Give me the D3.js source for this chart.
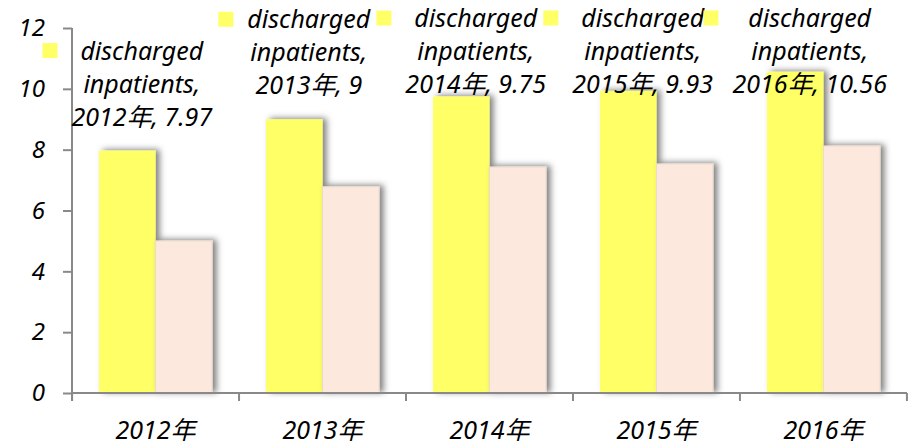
<!DOCTYPE html>
<html>
<head>
<meta charset="utf-8">
<script src="https://cdn.jsdelivr.net/npm/d3@7"></script>
<style>
  body { margin: 0; background: #fff; }
  text { font-family: "Noto Sans", "Noto Sans CJK SC", sans-serif; font-style: italic; }
</style>
</head>
<body>
<div id="chart"></div>
<script>
// data
let years = ["2012年", "2013年", "2014年", "2015年", "2016年"];
let seriesNames = ["discharged inpatients", "other"];
let discharged = [7.97, 9, 9.75, 9.93, 10.56];
let other = [5.0, 6.78, 7.43, 7.53, 8.12];
let yTicks = [0, 2, 4, 6, 8, 10, 12];

let width = 912;
let height = 446;
let plotLeft = 72, plotRight = 907, plotTop = 28, plotBottom = 393;

let svg = d3.select("#chart").append("svg")
  .attr("width", width)
  .attr("height", height);

// shadow behind the bars
let defs = svg.append("defs");
defs.append("filter")
  .attr("id", "shadow")
  .attr("x", "-20%").attr("y", "-20%")
  .attr("width", "150%").attr("height", "140%")
  .append("feDropShadow")
  .attr("dx", 4).attr("dy", -1)
  .attr("stdDeviation", 3)
  .attr("flood-color", "#000")
  .attr("flood-opacity", 0.5);

let xScale = d3.scaleBand()
  .domain(years)
  .range([plotLeft, plotRight])
  .paddingInner(0.323)
  .paddingOuter(0.162);

let xSub = d3.scaleBand()
  .domain(seriesNames)
  .range([0, xScale.bandwidth()]);

let yScale = d3.scaleLinear()
  .domain([0, 12])
  .range([plotBottom, plotTop]);

let colors = ["#ffff66", "#fce8dc"];

let rows = years.map(function (y, i) {
  return { year: y, values: [discharged[i], other[i]] };
});

// bars
let groups = svg.selectAll("g.year").data(rows).enter()
  .append("g")
  .attr("class", "year")
  .attr("transform", function (d) { return "translate(" + xScale(d.year) + ",0)"; });

groups.selectAll("rect").data(function (d) {
    return d.values.map(function (v, j) { return { name: seriesNames[j], value: v, j: j }; });
  }).enter()
  .append("rect")
  .attr("x", function (d) { return xSub(d.name); })
  .attr("y", function (d) { return yScale(d.value); })
  .attr("width", xSub.bandwidth())
  .attr("height", function (d) { return plotBottom - yScale(d.value); })
  .attr("fill", function (d) { return colors[d.j]; })
  .attr("stroke", function (d) { return d.j === 1 ? "#ecdccf" : "none"; })
  .attr("stroke-width", 1)
  .attr("filter", "url(#shadow)");

// axes
let axisColor = "#898989";
let yAxis = d3.axisLeft(yScale).tickValues(yTicks).tickSize(9).tickPadding(18);
let gy = svg.append("g")
  .attr("transform", "translate(" + plotLeft + ",0)")
  .call(yAxis);
gy.select(".domain").attr("stroke", axisColor).attr("stroke-width", 2)
  .attr("d", "M0," + plotTop + "V" + (plotBottom + 8));
gy.selectAll(".tick line").attr("stroke", axisColor).attr("stroke-width", 2);
gy.selectAll(".tick text").attr("font-size", 24).attr("fill", "#000")
  .style("font-family", "'Noto Sans', sans-serif").style("font-style", "italic");

let xAxis = d3.axisBottom(xScale).tickSize(0).tickPadding(28);
let gx = svg.append("g")
  .attr("transform", "translate(0," + plotBottom + ")")
  .call(xAxis);
gx.select(".domain").attr("stroke", axisColor).attr("stroke-width", 2)
  .attr("d", "M" + plotLeft + ",0H" + plotRight);
gx.selectAll(".tick text").attr("font-size", 25).attr("fill", "#000")
  .style("font-style", "italic");

// category boundary ticks
let half = (xScale.step() - xScale.bandwidth()) / 2;
let bounds = years.map(function (y) { return xScale(y) - half; });
bounds.push(xScale(years[years.length - 1]) + xScale.bandwidth() + half);
gx.selectAll("line.bound").data(bounds).enter()
  .append("line")
  .attr("class", "bound")
  .attr("x1", function (d) { return d; })
  .attr("x2", function (d) { return d; })
  .attr("y1", 0).attr("y2", 8)
  .attr("stroke", axisColor).attr("stroke-width", 2);

// data labels with legend keys on the first series
let lineH = 33;
let labels = svg.append("g").attr("class", "labels");
rows.forEach(function (d, i) {
  let cx = xScale(d.year) + xSub(seriesNames[0]) + xSub.bandwidth() / 2;
  let barTop = yScale(d.values[0]);
  let firstBase = Math.max(27, barTop - 25 - 2 * lineH);
  let lines = ["discharged", "inpatients,", d.year + ", " + d.values[0]];

  let g = labels.append("g");
  let txt = g.append("text")
    .attr("font-size", 25)
    .attr("fill", "#000")
    .attr("text-anchor", "middle");
  txt.selectAll("tspan").data(lines).enter()
    .append("tspan")
    .attr("x", 0)
    .attr("y", function (t, k) { return firstBase + k * lineH; })
    .text(function (t) { return t; });

  let tw = d3.max(txt.selectAll("tspan").nodes(), function (n) { return n.getComputedTextLength(); });
  let keySize = 15, gap = 14;
  let total = keySize + gap + tw;
  let textCenter = cx - total / 2 + keySize + gap + tw / 2;
  txt.selectAll("tspan").attr("x", textCenter);
  g.append("rect")
    .attr("x", cx - total / 2)
    .attr("y", firstBase - 9 - keySize / 2)
    .attr("width", keySize)
    .attr("height", keySize)
    .attr("fill", colors[0]);
});
</script>
</body>
</html>
